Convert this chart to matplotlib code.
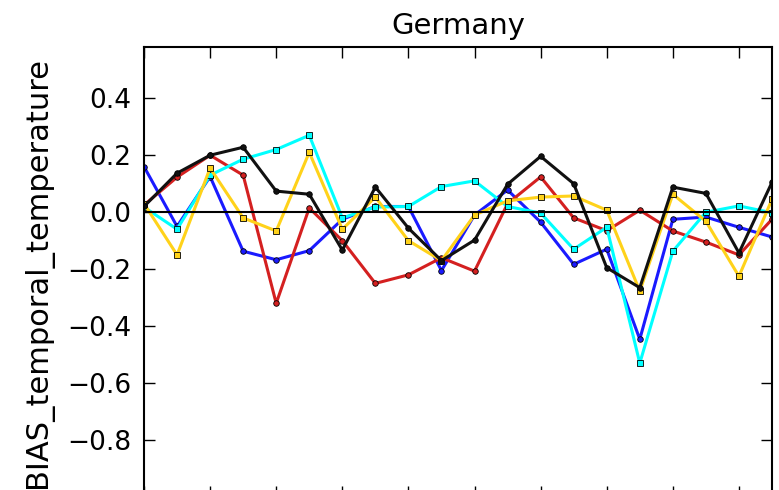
import matplotlib
matplotlib.use("Agg")
import matplotlib.pyplot as plt
import numpy as np

# yearly bias of the temporal temperature signal, five model runs
steps = list(range(20))

bias_blue = [0.16, -0.05, 0.125, -0.137, -0.167, -0.135, -0.025, 0.02, 0.02, -0.205,
             -0.01, 0.078, -0.035, -0.183, -0.13, -0.446, -0.025, -0.017, -0.053, -0.087]
bias_red = [0.025, 0.123, 0.2, 0.13, -0.32, 0.015, -0.1, -0.25, -0.22, -0.16,
            -0.207, 0.03, 0.124, -0.02, -0.065, 0.007, -0.066, -0.105, -0.15, -0.025]
bias_cyan = [0.018, -0.06, 0.13, 0.186, 0.22, 0.27, -0.02, 0.018, 0.02, 0.09,
             0.11, 0.02, -0.003, -0.13, -0.053, -0.53, -0.137, 0.0, 0.022, -0.002]
bias_gold = [0.03, -0.15, 0.155, -0.02, -0.066, 0.21, -0.06, 0.053, -0.1, -0.17,
             -0.01, 0.04, 0.053, 0.057, 0.007, -0.277, 0.063, -0.032, -0.225, 0.045]
bias_black = [0.02, 0.137, 0.2, 0.228, 0.074, 0.063, -0.133, 0.088, -0.056, -0.17,
              -0.098, 0.098, 0.196, 0.1, -0.195, -0.265, 0.088, 0.066, -0.143, 0.105]

series = [
    (bias_blue, "#1a1aff", "o"),
    (bias_red, "#d42020", "o"),
    (bias_cyan, "#00ffff", "s"),
    (bias_gold, "#ffd21a", "s"),
    (bias_black, "#111111", "o"),
]

fig = plt.figure(figsize=(7.79, 4.90), dpi=100)
ax = fig.add_axes([144 / 779, -7 / 490, 628 / 779, 450 / 490])

for values, color, marker in series:
    ax.plot(steps, values, color=color, lw=2.2, marker=marker, markersize=4,
            markeredgecolor="black", markeredgewidth=0.6, markerfacecolor=color)

ax.axhline(0, color="black", lw=1.5)

ax.set_xlim(0, 19)
ax.set_ylim(-1.0, 0.58)
ax.set_xticks(range(0, 20, 2))
ax.set_xticklabels([])
ax.set_yticks([-0.8, -0.6, -0.4, -0.2, 0.0, 0.2, 0.4])
ax.set_yticklabels(["\u22120.8", "\u22120.6", "\u22120.4", "\u22120.2", "0.0", "0.2", "0.4"])
ax.tick_params(direction="in", length=8, width=1, top=True, right=True,
               labelsize=19, pad=9)
for spine in ax.spines.values():
    spine.set_linewidth(1.5)

ax.set_ylabel("BIAS_temporal_temperature", fontsize=22, labelpad=10)
ax.set_title("Germany", fontsize=21, pad=9)

fig.savefig("out.png", dpi=100)
